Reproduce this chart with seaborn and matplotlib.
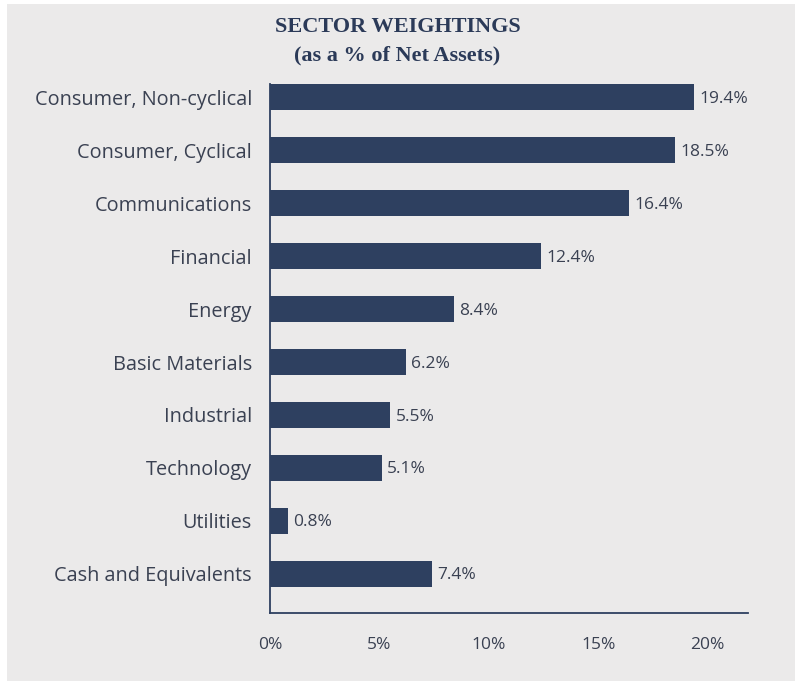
import matplotlib
matplotlib.use("Agg")
import matplotlib.pyplot as plt
import seaborn as sns
import pandas as pd
from matplotlib.patches import Rectangle

sectors = ["Consumer, Non-cyclical", "Consumer, Cyclical", "Communications",
           "Financial", "Energy", "Basic Materials", "Industrial",
           "Technology", "Utilities", "Cash and Equivalents"]
weights = [19.4, 18.5, 16.4, 12.4, 8.4, 6.2, 5.5, 5.1, 0.8, 7.4]
x_ticks = [0, 5, 10, 15, 20]
x_tick_labels = ["0%", "5%", "10%", "15%", "20%"]

df = pd.DataFrame({"sector": sectors, "weight": weights})

sns.set_theme(style="white")
plt.rcParams["font.family"] = ["Open Sans", "DejaVu Sans"]

BAR = "#2E4060"
TXT = "#3A4152"
PANEL = "#EBEAEA"

fig = plt.figure(figsize=(7.95, 6.83), dpi=100)
fig.patch.set_facecolor("white")
fig.patches.append(Rectangle((7 / 795, 0.003), 1, 1 - 0.003 - 4 / 683,
                             transform=fig.transFigure, facecolor=PANEL,
                             edgecolor="none", zorder=-10))

ax = fig.add_axes([270 / 795, 1 - 613 / 683, (748 - 270) / 795, (613 - 84) / 683])
ax.patch.set_alpha(0)
ax.set_zorder(5)

sns.barplot(data=df, x="weight", y="sector", orient="h", color=BAR,
            width=0.5, saturation=1, ax=ax, edgecolor="none")

for i, v in enumerate(weights):
    ax.text(v + 0.25, i + 0.03, f"{v:.1f}%", va="center", ha="left",
            fontsize=12.5, color=TXT)

ax.set_xlim(0, 21.85)
ax.set_ylim(9.74, -0.25)
ax.set_xticks(x_ticks)
ax.set_xticklabels(x_tick_labels, fontsize=12.5, color=TXT)
ax.tick_params(axis="x", length=0, pad=17)
ax.tick_params(axis="y", length=0, pad=13, labelsize=14.3, labelcolor=TXT)
ax.set_xlabel("")
ax.set_ylabel("")
for s in ["top", "right"]:
    ax.spines[s].set_visible(False)
for s in ["left", "bottom"]:
    ax.spines[s].set_color(BAR)
    ax.spines[s].set_linewidth(1.3)

fig.text(0.5, 1 - 27 / 683, "SECTOR WEIGHTINGS", ha="center", va="center",
         fontsize=16, fontweight="bold", color="#2B3A58",
         family=["Liberation Serif"])
fig.text(0.5, 1 - 55 / 683, "(as a % of Net Assets)", ha="center", va="center",
         fontsize=16, fontweight="bold", color="#2B3A58",
         family=["Liberation Serif"])

fig.savefig("out.png", dpi=100, facecolor=fig.get_facecolor())
